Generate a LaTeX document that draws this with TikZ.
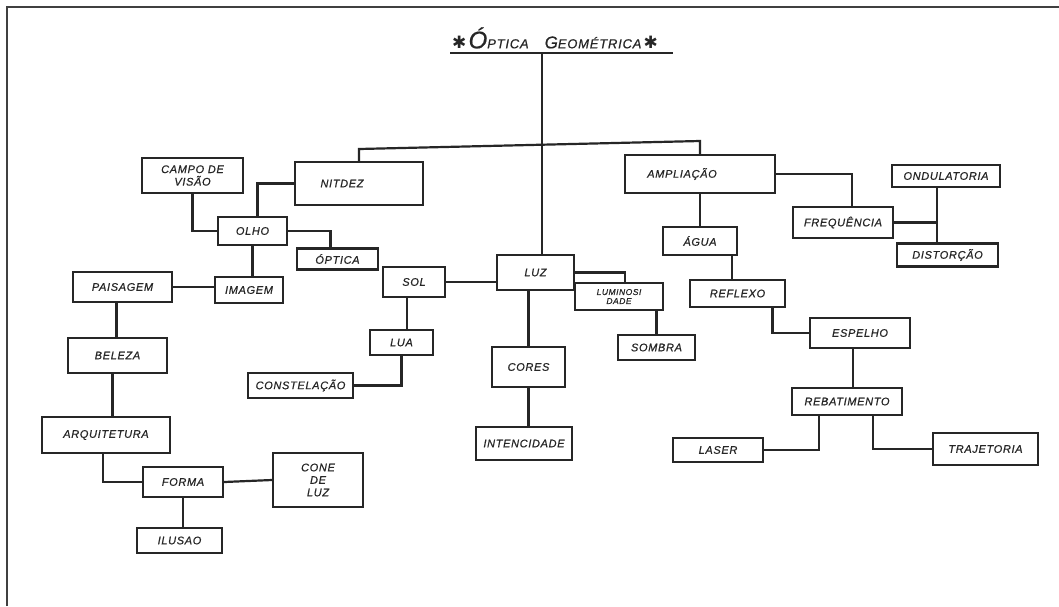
\documentclass[tikz,border=0pt]{standalone}
\usepackage{fontspec}
\setmainfont{Liberation Sans}
\newfontfamily\symf{DejaVu Sans}
\newfontfamily\hand[LetterSpace=6, UprightFeatures={FakeBold=0.6}, ItalicFeatures={FakeBold=0.6}]{Liberation Sans}
\begin{document}
\begin{tikzpicture}[x=1pt,y=-1pt,
  box/.style={draw=black!85, line width=2.2pt, inner sep=1pt,
    font=\hand\itshape\fontsize{11}{12.5}\selectfont, text=black!85},
  sz/.style 2 args={minimum width=#1pt, minimum height=#2pt},
  conn/.style={draw=black!85, line width=2.2pt},
  frame/.style={draw=black!75, line width=1.8pt}]
\useasboundingbox (0,0) rectangle (1059,606);
\fill[white] (0,0) rectangle (1059,606);
\draw[frame] (7,606) -- (7,7) -- (1059,7);

% title
\node[font=\hand\fontsize{13}{15}\selectfont, text=black!85, inner sep=0pt] (title) at (555,38)
  {{\symf\fontsize{17}{17}\selectfont ✱}\,{\fontsize{24}{24}\selectfont\itshape Ó}{\itshape PTICA}\hspace{16pt}{\fontsize{17}{17}\selectfont\itshape G}{\itshape EOMÉTRICA}\,{\symf\fontsize{17}{17}\selectfont ✱}};
\coordinate (ul1) at (450,53);
\coordinate (ul2) at (673,53);
\coordinate (ulm) at (542,53);
\draw[conn] (ul1) -- (ul2);

% boxes
\node[box,sz={101}{35},align=center] (campo) at (192.5,175.5) {CAMPO DE\\VISÃO};
\node[box,sz={128}{43}] (nitdez) at (359,183.5) {NITDEZ\hspace*{34pt}};
\node[box,sz={69}{28}] (olho) at (252.5,231) {OLHO};
\node[box,sz={81}{21}] (optica) at (337.5,259) {ÓPTICA};
\node[box,sz={99}{30}] (paisagem) at (122.5,287) {PAISAGEM};
\node[box,sz={68}{26}] (imagem) at (249,290) {IMAGEM};
\node[box,sz={62}{30}] (sol) at (414,282) {SOL};
\node[box,sz={77}{35}] (luz) at (535.5,272.5) {LUZ};
\node[box,sz={88}{27},align=center,font=\hand\itshape\fontsize{8.5}{9}\selectfont] (lum) at (619,296.5) {LUMINOSI\\DADE};
\node[box,sz={77}{25}] (sombra) at (656.5,347.5) {SOMBRA};
\node[box,sz={63}{25}] (lua) at (401.5,342.5) {LUA};
\node[box,sz={105}{25}] (constel) at (300.5,385.5) {CONSTELAÇÃO};
\node[box,sz={73}{40}] (cores) at (528.5,367) {CORES};
\node[box,sz={96}{33}] (intenc) at (524,443.5) {INTENCIDADE};
\node[box,sz={150}{38}] (ampl) at (700,174) {AMPLIAÇÃO\hspace*{36pt}};
\node[box,sz={100}{31}] (freq) at (843,222.5) {FREQUÊNCIA};
\node[box,sz={108}{22}] (ondul) at (946,176) {ONDULATORIA};
\node[box,sz={101}{23}] (distor) at (947.5,255) {DISTORÇÃO};
\node[box,sz={74}{28}] (agua) at (700,241) {ÁGUA};
\node[box,sz={95}{27}] (reflexo) at (737.5,293.5) {REFLEXO};
\node[box,sz={100}{30}] (espelho) at (860,333) {ESPELHO};
\node[box,sz={110}{27}] (rebat) at (847,401.5) {REBATIMENTO};
\node[box,sz={90}{24}] (laser) at (718,450) {LASER};
\node[box,sz={105}{32}] (traj) at (985.5,449) {TRAJETORIA};
\node[box,sz={99}{35}] (beleza) at (117.5,355.5) {BELEZA};
\node[box,sz={128}{36}] (arquit) at (106,435) {ARQUITETURA};
\node[box,sz={80}{30}] (forma) at (183,482) {FORMA};
\node[box,sz={90}{54},align=center] (cone) at (318,480) {CONE\\DE\\LUZ};
\node[box,sz={85}{25}] (ilusao) at (179.5,540.5) {ILUSAO};

% trunk and bar
\draw[conn] (ulm) -- (ulm |- luz.north);
\coordinate (barL) at (359,149);
\coordinate (barR) at (700,141);
\draw[conn] (nitdez.north) -- (barL) -- (barR) -- (ampl.north);

% left branch
\draw[conn] (campo.south) |- (olho.west);
\draw[conn] (nitdez.west) -| ([xshift=5pt]olho.north);
\draw[conn] (olho.east) -| ([xshift=-7pt]optica.north);
\draw[conn] (olho.south) -- (olho.south |- imagem.north);
\draw[conn] (paisagem.east) -- (paisagem.east -| imagem.west);
\coordinate (pb) at ([xshift=-6pt]paisagem.south);
\draw[conn] (pb) -- (pb |- beleza.north);
\coordinate (ba) at ([xshift=-5pt]beleza.south);
\draw[conn] (ba) -- (ba |- arquit.north);
\coordinate (af) at ([xshift=-3pt]arquit.south);
\draw[conn] (af) |- (forma.west);
\draw[conn] (forma.east) -- (cone.west);
\draw[conn] (forma.south) -- (forma.south |- ilusao.north);

% centre
\draw[conn] (sol.east) -- (sol.east -| luz.west);
\draw[conn] (luz.east) -| ([xshift=6pt]lum.north);
\draw[conn] (sombra.north) -- (sombra.north |- lum.south);
\coordinate (sl) at ([xshift=-7pt]sol.south);
\draw[conn] (sl) -- (sl |- lua.north);
\draw[conn] (lua.south) |- (constel.east);
\draw[conn] (cores.north) -- (cores.north |- luz.south);
\draw[conn] (cores.south) -- (cores.south |- intenc.north);

% right branch
\draw[conn] (agua.north) -- (agua.north |- ampl.south);
\draw[conn] (ampl.east) -| ([xshift=9pt]freq.north);
\coordinate (oj) at ([xshift=-9pt]ondul.south);
\draw[conn] (oj) -- (oj |- distor.north);
\draw[conn] (freq.east) -- (freq.east -| oj);
\coordinate (ar) at ([xshift=32pt]agua.south);
\draw[conn] (ar) -- (ar |- reflexo.north);
\coordinate (re) at ([xshift=35pt]reflexo.south);
\draw[conn] (re) |- (espelho.west);
\coordinate (er) at ([xshift=-7pt]espelho.south);
\draw[conn] (er) -- (er |- rebat.north);
\coordinate (rl) at ([xshift=-28pt]rebat.south);
\draw[conn] (rl) |- (laser.east);
\coordinate (rt) at ([xshift=26pt]rebat.south);
\draw[conn] (rt) |- (traj.west);
\end{tikzpicture}
\end{document}
